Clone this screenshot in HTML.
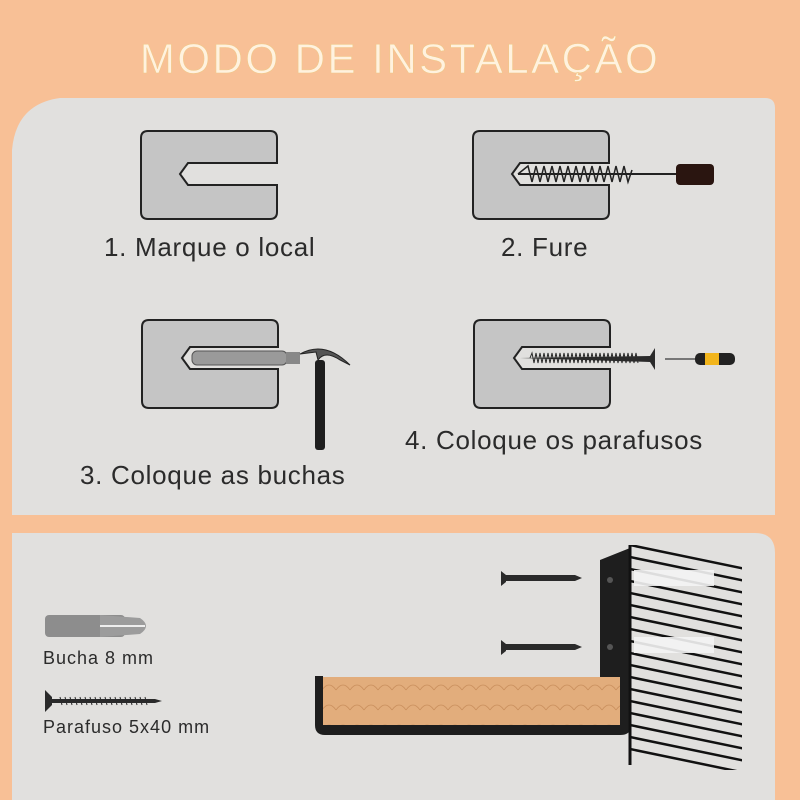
<!DOCTYPE html>
<html><head><meta charset="utf-8"><style>
html,body{margin:0;padding:0}
body{width:800px;height:800px;background:#f8c096;position:relative;overflow:hidden;font-family:"Liberation Sans","DejaVu Sans",sans-serif}
.t{position:absolute;color:#2b2b2b;white-space:nowrap}
.s{font-size:26px;letter-spacing:0.7px}
.l{font-size:18px;letter-spacing:1px}
</style></head><body>
<svg width="800" height="800" style="position:absolute;left:0;top:0">
<defs>
<pattern id="wood" width="14" height="60" patternUnits="userSpaceOnUse">
<rect width="14" height="60" fill="#e2ad7c"/>
<path d="M0 10 Q7 0 14 10 M0 30 Q7 20 14 30 M0 50 Q7 40 14 50" stroke="#c98e5c" stroke-width="0.8" fill="none"/>
</pattern>
<clipPath id="wall"><rect x="630" y="545" width="112" height="225"/></clipPath>
</defs>
<path d="M60 98 H765 Q775 98 775 108 V515 H12 V150 Q16 104 60 98 Z" fill="#e1e0de"/>
<path d="M12 533 H755 Q775 533 775 553 V800 H12 Z" fill="#e1e0de"/>
<text x="400" y="73" text-anchor="middle" font-family="Liberation Sans, sans-serif" font-size="42" fill="#fff2df" stroke="#f0c88a" stroke-width="0.6" letter-spacing="2.5">MODO DE INSTALAÇÃO</text>
<g fill="#c5c5c5" stroke="#222" stroke-width="2">
<path d="M148 131 H270 Q277 131 277 138 V163 H188 L180 174 L188 185 H277 V212 Q277 219 270 219 H148 Q141 219 141 212 V138 Q141 131 148 131 Z"/>
<path d="M480 131 H602 Q609 131 609 138 V163 H520 L512 174 L520 185 H609 V212 Q609 219 602 219 H480 Q473 219 473 212 V138 Q473 131 480 131 Z"/>
<path d="M149 320 H271 Q278 320 278 327 V347 H190 L182 358 L190 369 H278 V401 Q278 408 271 408 H149 Q142 408 142 401 V327 Q142 320 149 320 Z"/>
<path d="M481 320 H603 Q610 320 610 327 V347 H522 L514 358 L522 369 H610 V401 Q610 408 603 408 H481 Q474 408 474 401 V327 Q474 320 481 320 Z"/>
</g>
<path d="M518 174 L528 166 L532 182 L536 166 L540 182 L544 166 L548 182 L552 166 L556 182 L560 166 L564 182 L568 166 L572 182 L576 166 L580 182 L584 166 L588 182 L592 166 L596 182 L600 166 L604 182 L608 166 L612 182 L616 166 L620 182 L624 166 L628 182 L632 170" stroke="#222" stroke-width="1.5" fill="none"/>
<line x1="518" y1="174" x2="680" y2="174" stroke="#222" stroke-width="2"/>
<rect x="676" y="164" width="38" height="21" rx="4" fill="#2a1510"/>
<rect x="192" y="351" width="95" height="14" rx="5" fill="#9a9a9a" stroke="#555"/>
<rect x="286" y="352" width="14" height="12" fill="#888"/>
<path d="M300 354 Q325 340 350 365 L340 360 Q325 350 318 360 L316 352 Z" fill="#555" stroke="#222"/>
<rect x="315" y="360" width="10" height="90" rx="3" fill="#1e1e1e"/>
<path d="M520 358 L650 356 L655 348 L655 370 L650 362 Z" fill="#2a2a2a"/>
<path d="M530 358 l2 -5 l2 10 l2 -10 l2 10 l2 -10 l2 10 l2 -10 l2 10 l2 -10 l2 10 l2 -10 l2 10 l2 -10 l2 10 l2 -10 l2 10 l2 -10 l2 10 l2 -10 l2 10 l2 -10 l2 10 l2 -10 l2 10 l2 -10 l2 10 l2 -10 l2 10 l2 -10 l2 10 l2 -10 l2 10 l2 -10 l2 10 l2 -10 l2 10 l2 -10 l2 10 l2 -10 l2 10 l2 -10 l2 10 l2 -10 l2 10 l2 -10 l2 10 l2 -10 l2 10 l2 -10 l2 10 l2 -10 l2 10 l2 -10 l2 10" stroke="#2a2a2a" stroke-width="1" fill="none"/>
<line x1="665" y1="359" x2="700" y2="359" stroke="#777" stroke-width="2"/>
<rect x="695" y="353" width="40" height="12" rx="5" fill="#222"/>
<rect x="705" y="353" width="14" height="12" fill="#f2b51c"/>
<rect x="45" y="615" width="80" height="22" rx="4" fill="#8d8d8d"/>
<path d="M100 615 L140 618 Q152 626 140 634 L100 637 Z" fill="#9c9c9c"/>
<line x1="100" y1="626" x2="145" y2="626" stroke="#eee" stroke-width="2"/>
<path d="M45 690 L52 697 L52 705 L45 712 Z" fill="#2a2a2a"/>
<path d="M52 699 H155 L162 701 L155 703 H52 Z" fill="#2a2a2a"/>
<path d="M60 697 l2 8 m3 -8 l2 8 m3 -8 l2 8 m3 -8 l2 8 m3 -8 l2 8 m3 -8 l2 8 m3 -8 l2 8 m3 -8 l2 8 m3 -8 l2 8 m3 -8 l2 8 m3 -8 l2 8 m3 -8 l2 8 m3 -8 l2 8 m3 -8 l2 8 m3 -8 l2 8 m3 -8 l2 8 m3 -8 l2 8 m3 -8 l2 8" stroke="#2a2a2a" stroke-width="1"/>
<g fill="#2a2a2a">
<path d="M501 571 L506 575 L506 582 L501 586 Z"/><rect x="505" y="575" width="70" height="6"/><path d="M575 575 L582 578 L575 581Z"/>
<path d="M501 640 L506 644 L506 651 L501 655 Z"/><rect x="505" y="644" width="70" height="6"/><path d="M575 644 L582 647 L575 650Z"/>
</g>
<path d="M600 560 L630 548 V728 Q630 735 620 735 H325 Q315 735 315 725 V676 H323 V725 H620 V560 Z" fill="#1e1e1e"/>
<rect x="600" y="560" width="30" height="120" fill="#1e1e1e"/>
<circle cx="610" cy="580" r="3" fill="#555"/><circle cx="610" cy="647" r="3" fill="#555"/>
<rect x="323" y="677" width="297" height="48" fill="url(#wood)"/>
<line x1="630" y1="545" x2="630" y2="765" stroke="#111" stroke-width="3"/>
<g clip-path="url(#wall)" stroke="#111" stroke-width="2.5">
<line x1="630" y1="545" x2="760" y2="572"/><line x1="630" y1="557" x2="760" y2="584"/><line x1="630" y1="569" x2="760" y2="596"/><line x1="630" y1="581" x2="760" y2="608"/><line x1="630" y1="593" x2="760" y2="620"/><line x1="630" y1="605" x2="760" y2="632"/><line x1="630" y1="617" x2="760" y2="644"/><line x1="630" y1="629" x2="760" y2="656"/><line x1="630" y1="641" x2="760" y2="668"/><line x1="630" y1="653" x2="760" y2="680"/><line x1="630" y1="665" x2="760" y2="692"/><line x1="630" y1="677" x2="760" y2="704"/><line x1="630" y1="689" x2="760" y2="716"/><line x1="630" y1="701" x2="760" y2="728"/><line x1="630" y1="713" x2="760" y2="740"/><line x1="630" y1="725" x2="760" y2="752"/><line x1="630" y1="737" x2="760" y2="764"/><line x1="630" y1="749" x2="760" y2="776"/>
</g>
<rect x="634" y="570" width="80" height="16" fill="#f4f4f4" opacity="0.9"/>
<rect x="634" y="637" width="80" height="16" fill="#f4f4f4" opacity="0.9"/>
</svg>
<div class="t s" style="left:104px;top:232px">1. Marque o local</div>
<div class="t s" style="left:501px;top:232px">2. Fure</div>
<div class="t s" style="left:80px;top:460px">3. Coloque as buchas</div>
<div class="t s" style="left:405px;top:425px">4. Coloque os parafusos</div>
<div class="t l" style="left:43px;top:648px">Bucha 8 mm</div>
<div class="t l" style="left:43px;top:717px">Parafuso 5x40 mm</div>
</body></html>
